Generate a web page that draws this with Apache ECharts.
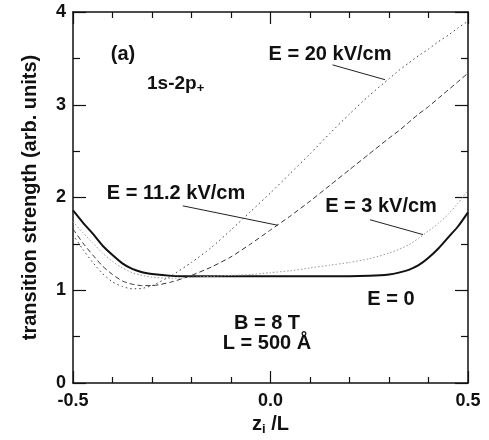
<!DOCTYPE html>
<html>
<head>
    <meta charset="utf-8">
    <title>1s-2p+ transition strength</title>
    <script src="https://cdn.jsdelivr.net/npm/echarts@6.0.0/dist/echarts.min.js"></script>
    <style>
        html, body { margin: 0; padding: 0; background: #fff; }
        #main { width: 489px; height: 440px; }
    </style>
</head>
<body>
    <div id="main"></div>
    <script>
        // impurity position z_i / L (denser near the well edges)
        var zPos = [-0.5, -0.475, -0.45, -0.425, -0.4, -0.375, -0.35, -0.325, -0.3,
                    -0.25, -0.2, -0.15, -0.1, -0.05, 0, 0.05, 0.1, 0.15, 0.2, 0.25,
                    0.3, 0.325, 0.35, 0.375, 0.4, 0.425, 0.45, 0.475, 0.5];
        // transition strength for each field
        var strengthE0  = [1.86, 1.73, 1.61, 1.48, 1.38, 1.29, 1.23, 1.195, 1.175,
                           1.155, 1.15, 1.15, 1.15, 1.15, 1.15, 1.15, 1.15, 1.15, 1.15, 1.155,
                           1.17, 1.19, 1.22, 1.27, 1.35, 1.45, 1.57, 1.69, 1.84];
        var strengthE3  = [1.74, 1.62, 1.51, 1.40, 1.31, 1.24, 1.19, 1.16, 1.14,
                           1.13, 1.14, 1.15, 1.16, 1.17, 1.19, 1.21, 1.24, 1.27, 1.30, 1.34,
                           1.40, 1.44, 1.49, 1.56, 1.64, 1.72, 1.82, 1.94, 2.08];
        var strengthE11 = [1.66, 1.51, 1.38, 1.26, 1.17, 1.10, 1.065, 1.05, 1.05,
                           1.09, 1.16, 1.25, 1.36, 1.50, 1.65, 1.80, 1.96, 2.13, 2.30, 2.47,
                           2.64, 2.72, 2.81, 2.90, 2.98, 3.07, 3.16, 3.25, 3.34];
        var strengthE20 = [1.60, 1.44, 1.30, 1.18, 1.09, 1.04, 1.015, 1.02, 1.05,
                           1.16, 1.30, 1.46, 1.65, 1.85, 2.05, 2.26, 2.47, 2.69, 2.90, 3.10,
                           3.28, 3.37, 3.45, 3.53, 3.60, 3.68, 3.75, 3.83, 3.90];
        // leader lines from labels to curves (data units)
        var leaders = [
            [[0.157, 3.43], [0.29, 3.27]],
            [[-0.222, 1.91], [0.019, 1.70]],
            [[0.252, 1.76], [0.386, 1.60]]
        ];

        var FONT = '"Liberation Sans", Arial, sans-serif';

        function pairs(ys) {
            return zPos.map(function (z, i) { return [z, ys[i]]; });
        }

        function xAx(pos, showLabel) {
            return {
                type: 'value', position: pos, min: -0.5, max: 0.5, interval: 0.5,
                axisLine: { onZero: false, lineStyle: { color: '#111', width: 1.5 } },
                axisTick: { inside: true, length: 12, lineStyle: { color: '#111', width: 1.2 } },
                minorTick: { show: true, splitNumber: 5, length: 6, lineStyle: { color: '#111', width: 1.2 } },
                splitLine: { show: false },
                axisLabel: {
                    show: showLabel, showMinLabel: true, showMaxLabel: true, margin: 9,
                    formatter: function (v) { return v.toFixed(1); },
                    color: '#111', fontSize: 18, fontWeight: 'bold', fontFamily: FONT
                }
            };
        }

        function yAx(pos, showLabel) {
            return {
                type: 'value', position: pos, min: 0, max: 4, interval: 1,
                axisLine: { onZero: false, lineStyle: { color: '#111', width: 1.5 } },
                axisTick: { inside: true, length: 13, lineStyle: { color: '#111', width: 1.2 } },
                minorTick: { show: true, splitNumber: 2, length: 7, lineStyle: { color: '#111', width: 1.2 } },
                splitLine: { show: false },
                axisLabel: {
                    show: showLabel, margin: 7,
                    color: '#111', fontSize: 18, fontWeight: 'bold', fontFamily: FONT
                }
            };
        }

        var xBottom = xAx('bottom', true);
        xBottom.name = '{m|z}{s|i}{m| /L}';
        xBottom.nameLocation = 'middle';
        xBottom.nameGap = 27;
        xBottom.nameTextStyle = {
            rich: {
                m: { fontSize: 20, fontWeight: 'bold', fontFamily: FONT, color: '#111', lineHeight: 22 },
                s: { fontSize: 13, fontWeight: 'bold', fontFamily: FONT, color: '#111', lineHeight: 10, verticalAlign: 'bottom' }
            }
        };

        var yLeft = yAx('left', true);
        yLeft.name = 'transition strength (arb. units)';
        yLeft.nameLocation = 'middle';
        yLeft.nameGap = 33;
        yLeft.nameTextStyle = { fontSize: 20, fontWeight: 'bold', fontFamily: FONT, color: '#111' };

        var chart = echarts.init(document.getElementById('main'));

        function line(name, ys, color, width, type) {
            return {
                name: name, type: 'line', data: pairs(ys), smooth: 0.2,
                showSymbol: false, silent: true,
                lineStyle: { color: color, width: width, type: type }
            };
        }

        function label(text, x, y, align) {
            return {
                type: 'text', x: x, y: y, silent: true,
                style: {
                    text: text, fill: '#111', fontSize: 20, fontWeight: 'bold', fontFamily: FONT,
                    textAlign: align || 'center', textVerticalAlign: 'middle'
                }
            };
        }

        chart.setOption({
            animation: false,
            backgroundColor: '#fff',
            grid: { left: 73, right: 21, top: 12, bottom: 57, containLabel: false, outerBoundsMode: 'none' },
            xAxis: [xBottom, xAx('top', false)],
            yAxis: [yLeft, yAx('right', false)],
            series: [
                line('E = 0', strengthE0, '#111', 2, 'solid'),
                line('E = 3 kV/cm', strengthE3, '#9a9a9a', 1, [1.5, 2]),
                line('E = 11.2 kV/cm', strengthE11, '#333', 1, [5, 3]),
                line('E = 20 kV/cm', strengthE20, '#444', 1, [1.5, 3])
            ]
        });

        var graphics = [
            label('(a)', 123, 54),
            {
                type: 'text', x: 147, y: 84, silent: true,
                style: {
                    text: '{m|1s-2p}{s|+}', textAlign: 'left', textVerticalAlign: 'middle',
                    rich: {
                        m: { fontSize: 19, fontWeight: 'bold', fontFamily: FONT, fill: '#111', lineHeight: 22 },
                        s: { fontSize: 13, fontWeight: 'bold', fontFamily: FONT, fill: '#111', lineHeight: 10, verticalAlign: 'bottom' }
                    }
                }
            },
            label('E = 20 kV/cm', 330, 54),
            label('E = 11.2 kV/cm', 176, 193),
            label('E = 3 kV/cm', 381, 206),
            label('E = 0', 391, 299),
            label('B = 8 T', 267, 323),
            label('L = 500 Å', 267, 343)
        ];
        leaders.forEach(function (seg) {
            var a = chart.convertToPixel({ gridIndex: 0 }, seg[0]);
            var b = chart.convertToPixel({ gridIndex: 0 }, seg[1]);
            graphics.push({
                type: 'line', silent: true,
                shape: { x1: a[0], y1: a[1], x2: b[0], y2: b[1] },
                style: { stroke: '#222', lineWidth: 1 }
            });
        });
        chart.setOption({ graphic: graphics });

        window.addEventListener('resize', function () {
            chart.resize();
        });
    </script>
</body>
</html>
